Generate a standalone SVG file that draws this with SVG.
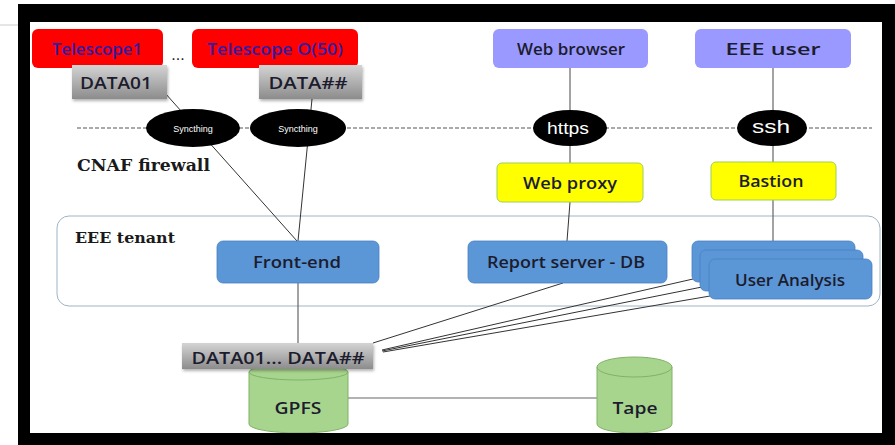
<svg xmlns="http://www.w3.org/2000/svg" width="895" height="445" viewBox="0 0 895 445">
<defs>
<style>
.lbl{font-family:"Open Sans","Noto Sans","Liberation Sans",sans-serif;font-weight:600;font-size:17px;fill:#1c1c2e;text-anchor:middle;dominant-baseline:central}
.tel{font-family:"Open Sans","Noto Sans","Liberation Sans",sans-serif;font-weight:600;font-size:17px;fill:#2e1ea8;text-anchor:middle;dominant-baseline:central}
.ell{font-family:"Liberation Sans",sans-serif;fill:#fff;text-anchor:middle;dominant-baseline:central}
.ser{font-family:"DejaVu Serif","Liberation Serif",serif;font-weight:bold;fill:#1a1a1a}
.red{fill:#ff0000}
.lav{fill:#9999ff}
.yel{fill:#ffff00;stroke:#9ccf5a;stroke-width:1}
.blu{fill:#5b96d6;stroke:#4a82c0;stroke-width:0.8}
.gry{fill:url(#gg)}
.cyl{fill:#a8d58e;stroke:#7fb266;stroke-width:1}
.ln{stroke:#333;stroke-width:1;fill:none}
.lng{stroke:#666;stroke-width:1.2;fill:none}
</style>
<linearGradient id="gg" x1="0" y1="0" x2="0" y2="1">
<stop offset="0" stop-color="#d4d4d4"/>
<stop offset="1" stop-color="#8c8c8c"/>
</linearGradient>
<filter id="sh" x="-10%" y="-10%" width="130%" height="140%">
<feDropShadow dx="1" dy="2" stdDeviation="1.5" flood-color="#000" flood-opacity="0.3"/>
</filter>
</defs>
<rect x="0" y="0" width="895" height="445" fill="#fff"/>
<line x1="0" y1="25" x2="21" y2="25" stroke="#ccc" stroke-width="1"/>
<rect x="18" y="4" width="877" height="441" fill="#000"/>
<rect x="30" y="22" width="852" height="411" fill="#fff"/>

<g id="tenant">
<rect x="57" y="216" width="823" height="90" rx="12" fill="none" stroke="#9fb4c4" stroke-width="1"/>
<text class="ser" x="75" y="243" font-size="15" textLength="100" lengthAdjust="spacingAndGlyphs">EEE tenant</text>
</g>
<g id="firewall">
<line x1="77" y1="128" x2="872" y2="128" stroke="#555" stroke-width="1.2" stroke-dasharray="4,2"/>
<text class="ser" x="77" y="171" font-size="17" textLength="133" lengthAdjust="spacingAndGlyphs">CNAF firewall</text>
</g>

<g id="connectors">
<line class="ln" x1="165" y1="93" x2="297" y2="241"/>
<line class="ln" x1="312" y1="99" x2="298" y2="241"/>
<line class="lng" x1="570" y1="68" x2="570" y2="163"/>
<line class="ln" x1="570" y1="202" x2="567" y2="241"/>
<line class="lng" x1="773" y1="68" x2="773" y2="162"/>
<line class="lng" x1="773" y1="200" x2="773" y2="241"/>
<line class="lng" x1="298" y1="283" x2="298" y2="343"/>
<line class="ln" x1="563" y1="283" x2="373" y2="343"/>
<line class="ln" x1="693" y1="279" x2="382" y2="350"/>
<line class="ln" x1="702" y1="287" x2="382" y2="351"/>
<line class="ln" x1="710" y1="296" x2="383" y2="352"/>
<line class="lng" x1="348" y1="398" x2="598" y2="398"/>
</g>

<g id="telescope1">
<rect class="red" x="32" y="29" width="131" height="39" rx="6"/>
<text class="tel" x="97" y="48" textLength="90" lengthAdjust="spacingAndGlyphs">Telescope1</text>
</g>
<g id="dots"><text x="178" y="60" font-family="Liberation Sans,sans-serif" font-size="16" fill="#222" text-anchor="middle">...</text></g>
<g id="telescopeO">
<rect class="red" x="192" y="29" width="166" height="39" rx="6"/>
<text class="tel" x="275" y="48" textLength="136" lengthAdjust="spacingAndGlyphs">Telescope O(50)</text>
</g>
<g id="data01">
<rect class="gry" x="72" y="65" width="95" height="34" filter="url(#sh)"/>
<text class="lbl" x="116" y="82" textLength="72" lengthAdjust="spacingAndGlyphs">DATA01</text>
</g>
<g id="dataHH">
<rect class="gry" x="259" y="65" width="103" height="34" filter="url(#sh)"/>
<text class="lbl" x="308" y="82" textLength="79" lengthAdjust="spacingAndGlyphs">DATA##</text>
</g>

<g id="sync1">
<ellipse cx="193" cy="128" rx="47" ry="19" fill="#000"/>
<text class="ell" x="193" y="129" font-size="9">Syncthing</text>
</g>
<g id="sync2">
<ellipse cx="298" cy="128" rx="48" ry="19" fill="#000"/>
<text class="ell" x="298" y="129" font-size="9">Syncthing</text>
</g>
<g id="https">
<ellipse cx="570" cy="128" rx="37" ry="18" fill="#000"/>
<text class="ell" x="568" y="128" font-size="17" textLength="42" lengthAdjust="spacingAndGlyphs">https</text>
</g>
<g id="ssh">
<ellipse cx="772" cy="128" rx="35" ry="18" fill="#000"/>
<text class="ell" x="771" y="127" font-size="18" textLength="38" lengthAdjust="spacingAndGlyphs">ssh</text>
</g>

<g id="webbrowser">
<rect class="lav" x="493" y="29" width="155" height="39" rx="6"/>
<text class="lbl" x="571" y="48" textLength="108" lengthAdjust="spacingAndGlyphs">Web browser</text>
</g>
<g id="eeeuser">
<rect class="lav" x="695" y="29" width="156" height="39" rx="6"/>
<text class="lbl" x="773" y="48" textLength="95" lengthAdjust="spacingAndGlyphs">EEE user</text>
</g>
<g id="webproxy">
<rect class="yel" x="497" y="163" width="146" height="39" rx="5"/>
<text class="lbl" x="570" y="182" textLength="94" lengthAdjust="spacingAndGlyphs">Web proxy</text>
</g>
<g id="bastion">
<rect class="yel" x="711" y="162" width="125" height="38" rx="5"/>
<text class="lbl" x="771" y="180" textLength="65" lengthAdjust="spacingAndGlyphs">Bastion</text>
</g>

<g id="frontend">
<rect class="blu" x="217" y="241" width="162" height="42" rx="6"/>
<text class="lbl" x="297" y="261" textLength="88" lengthAdjust="spacingAndGlyphs">Front-end</text>
</g>
<g id="reportserver">
<rect class="blu" x="468" y="241" width="199" height="42" rx="6"/>
<text class="lbl" x="566" y="261" textLength="158" lengthAdjust="spacingAndGlyphs">Report server - DB</text>
</g>
<g id="useranalysis">
<rect class="blu" x="692" y="241" width="163" height="41" rx="6"/>
<rect class="blu" x="700" y="250" width="163" height="41" rx="6"/>
<rect class="blu" x="709" y="259" width="163" height="40" rx="6"/>
<text class="lbl" x="790" y="279" textLength="110" lengthAdjust="spacingAndGlyphs">User Analysis</text>
</g>

<g id="gpfs">
<path class="cyl" d="M249,372 L249,424 A49.5,9 0 0 0 348,424 L348,372"/>
<ellipse class="cyl" cx="298.5" cy="372" rx="49.5" ry="8"/>
<text class="lbl" x="298" y="407" textLength="47" lengthAdjust="spacingAndGlyphs">GPFS</text>
</g>
<g id="dataall">
<rect class="gry" x="182" y="343" width="191" height="26" filter="url(#sh)"/>
<text class="lbl" x="278" y="357" textLength="173" lengthAdjust="spacingAndGlyphs">DATA01... DATA##</text>
</g>
<g id="tape">
<path class="cyl" d="M597,367 L597,424 A37.5,9 0 0 0 672,424 L672,367"/>
<ellipse class="cyl" cx="634.5" cy="367" rx="37.5" ry="10"/>
<text class="lbl" x="635" y="407" textLength="45" lengthAdjust="spacingAndGlyphs">Tape</text>
</g>
<rect x="21" y="433" width="874" height="12" fill="#000"/>
</svg>
